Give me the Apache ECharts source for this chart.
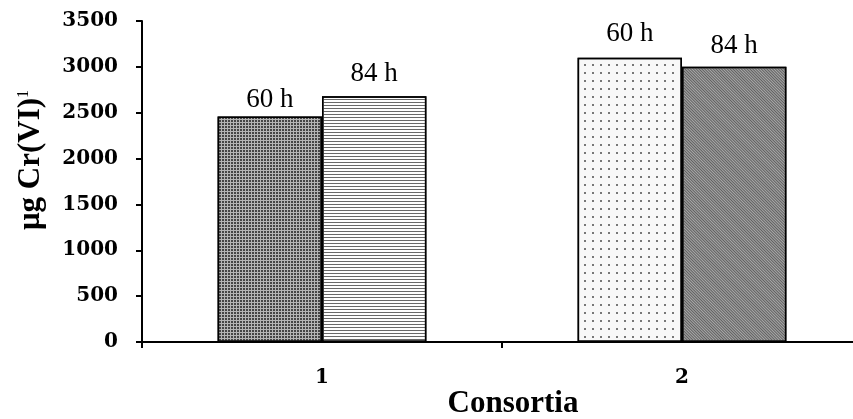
<!DOCTYPE html>
<html>
<head>
<meta charset="utf-8">
<script src="https://cdn.jsdelivr.net/npm/echarts@6/dist/echarts.min.js"></script>
<style>
  html, body { margin: 0; padding: 0; background: #fff; }
  #chart { width: 853px; height: 419px; }
</style>
</head>
<body>
<div id="chart"></div>
<script>
const categories = ['1', '2']
const seriesNames = ['60 h', '84 h']
const values60h = [2460, 3100]
const values84h = [2680, 3000]
const yTicks = [0, 500, 1000, 1500, 2000, 2500, 3000, 3500]

// fill pattern per bar: [series][category]
const barStyles = [
  [
    { color: '#b4b4b4', decal: { symbol: 'rect', symbolSize: 1, color: '#454545', dashArrayX: [2, 1], dashArrayY: [2, 1] } },
    { color: '#f8f8f8', decal: { symbol: 'rect', symbolSize: 1, color: '#777777', dashArrayX: [2, 6], dashArrayY: [2, 6] } }
  ],
  [
    { color: '#ffffff', decal: { symbol: 'rect', symbolSize: 1, color: '#6a6a6a', dashArrayX: [1, 0], dashArrayY: [1, 2] } },
    { color: '#a8a8a8', decal: { symbol: 'rect', symbolSize: 1, color: '#606060', dashArrayX: [1, 0], dashArrayY: [1, 1], rotation: Math.PI / 4 } }
  ]
]
const labelGaps = [[3, 10], [9, 7]]

const chart = echarts.init(document.getElementById('chart'))

function buildData(values, s) {
  return values.map((v, i) => ({
    value: v,
    itemStyle: Object.assign({ borderColor: '#000', borderWidth: 1.5 }, barStyles[s][i]),
    label: { distance: labelGaps[s][i] }
  }))
}

const labelStyle = {
  show: true,
  position: 'top',
  formatter: '{a}',
  fontFamily: 'Liberation Serif',
  fontSize: 27,
  color: '#000'
}

chart.setOption({
  animation: false,
  aria: { show: false },
  grid: {
    left: 142,
    right: -9,
    top: 21,
    bottom: 77,
    containLabel: false,
    outerBoundsMode: 'none'
  },
  xAxis: {
    type: 'category',
    data: categories,
    axisLine: { lineStyle: { color: '#000', width: 2 } },
    axisTick: { show: true, length: 6, lineStyle: { color: '#000', width: 2 } },
    axisLabel: {
      margin: 26,
      fontFamily: 'DejaVu Serif',
      fontWeight: 'bold',
      fontSize: 20,
      color: '#000'
    }
  },
  yAxis: {
    type: 'value',
    min: yTicks[0],
    max: yTicks[yTicks.length - 1],
    interval: yTicks[1] - yTicks[0],
    axisLine: { show: true, lineStyle: { color: '#000', width: 2 } },
    axisTick: { show: true, length: 6, lineStyle: { color: '#000', width: 2 } },
    splitLine: { show: false },
    axisLabel: {
      margin: 24,
      formatter: (v) => String(v),
      fontFamily: 'DejaVu Serif',
      fontWeight: 'bold',
      fontSize: 20,
      color: '#000'
    }
  },
  series: [
    {
      name: seriesNames[0],
      type: 'bar',
      barGap: 0,
      barCategoryGap: '42%',
      label: labelStyle,
      data: buildData(values60h, 0)
    },
    {
      name: seriesNames[1],
      type: 'bar',
      barGap: 0,
      barCategoryGap: '42%',
      label: labelStyle,
      data: buildData(values84h, 1)
    }
  ],
  graphic: [
    {
      type: 'text',
      x: 513,
      y: 404,
      style: {
        text: 'Consortia',
        fontFamily: 'Liberation Serif',
        fontWeight: 'bold',
        fontSize: 31,
        fill: '#000',
        textAlign: 'center',
        textVerticalAlign: 'middle'
      }
    },
    {
      type: 'text',
      x: 31,
      y: 160,
      rotation: Math.PI / 2,
      style: {
        text: '{m|μg Cr(VI)}{s|1}',
        textAlign: 'center',
        textVerticalAlign: 'middle',
        rich: {
          m: { fontFamily: 'Liberation Serif', fontWeight: 'bold', fontSize: 31, fill: '#000' },
          s: { fontFamily: 'Liberation Serif', fontSize: 16, fill: '#000', verticalAlign: 'top', padding: [0, 0, 14, 0] }
        }
      }
    }
  ]
})
</script>
</body>
</html>
